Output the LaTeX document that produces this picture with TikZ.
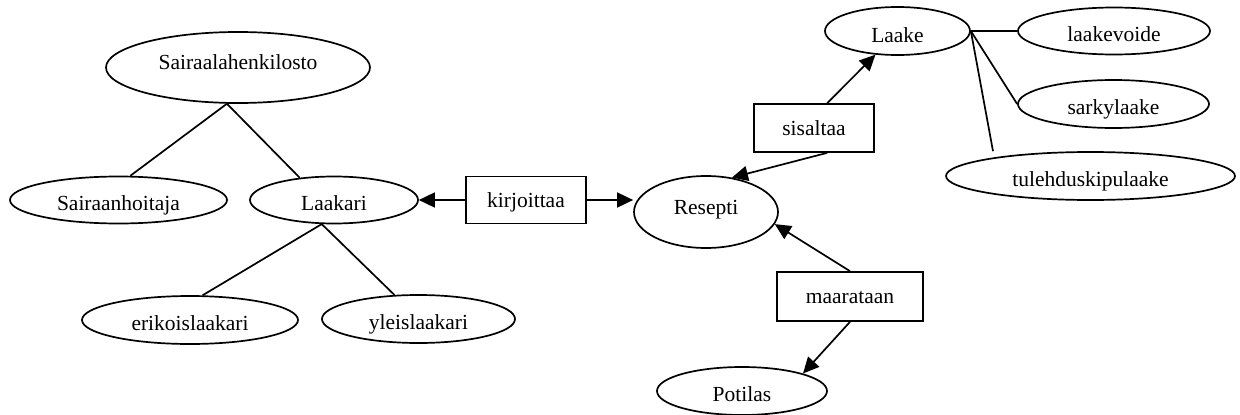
\documentclass[tikz,border=0pt]{standalone}
\usepackage{fontspec}
\setmainfont{Liberation Serif}
\usetikzlibrary{shapes.geometric,arrows.meta}
% zero-width centred label, so node sizes come only from the minimum sizes
\newcommand\ctxt[1]{\makebox[0pt]{#1}}
\begin{document}
\begin{tikzpicture}[x=1pt,y=-1pt,line width=1.7pt,
  every node/.style={font=\fontsize{21.5}{25}\selectfont, inner sep=0pt},
  ent/.style={draw, ellipse, text height=20pt, text depth=0pt},
  tallent/.style={text height=4pt},
  rel/.style={draw, rectangle, text height=14pt, text depth=0pt},
  link/.style={line width=1.7pt},
  arr/.style={link, -{Triangle[length=16pt,width=15pt]}}]
\useasboundingbox (0,0) rectangle (1240,415);

% staff hierarchy
\node[ent, tallent, minimum width=264pt, minimum height=71pt] (sai) at (238,67.5) {\ctxt{Sairaalahenkilosto}};
\node[ent, minimum width=217pt, minimum height=47pt] (hoit) at (118.5,200) {\ctxt{Sairaanhoitaja}};
\node[ent, minimum width=168pt, minimum height=47pt] (laak) at (334,200) {\ctxt{Laakari}};
\node[ent, minimum width=216pt, minimum height=48pt] (erik) at (190,320) {\ctxt{erikoislaakari}};
\node[ent, minimum width=193pt, minimum height=48pt] (ylei) at (418.5,319) {\ctxt{yleislaakari}};

% relationships
\node[rel, minimum width=120pt, minimum height=47pt] (kirj) at (526,200) {\ctxt{kirjoittaa}};
\node[ent, tallent, minimum width=144pt, minimum height=72pt] (res) at (706,212) {\ctxt{Resepti}};
\node[rel, minimum width=120pt, minimum height=48pt] (sis) at (814,128) {\ctxt{sisaltaa}};
\node[rel, minimum width=146pt, minimum height=49pt] (maar) at (850,296.5) {\ctxt{maarataan}};
\node[ent, minimum width=170pt, minimum height=48pt] (pot) at (742,391) {\ctxt{Potilas}};

% medicines
\node[ent, text height=22pt, minimum width=145pt, minimum height=48pt] (laake) at (897.5,31) {\ctxt{Laake}};
\node[ent, minimum width=192pt, minimum height=47pt] (lvoide) at (1114,31) {\ctxt{laakevoide}};
\node[ent, minimum width=191pt, minimum height=48pt] (sark) at (1113.5,104) {\ctxt{sarkylaake}};
\node[ent, minimum width=289pt, minimum height=48pt] (tule) at (1090.5,176) {\ctxt{tulehduskipulaake}};
\coordinate (tulej) at ([xshift=-97.5pt]tule.north);

% hierarchy lines
\draw[link] (sai.253) -- (hoit.64);
\draw[link] (sai.253) -- (laak.147);
\draw[link] (laak.243) -- (erik.63);
\draw[link] (laak.243) -- (ylei.135);
\draw[link] (laake.east) -- (lvoide.west);
\draw[link] (laake.east) -- (sark.west);
\draw[link] (laake.east) -- (tulej);

% relationship arrows
\draw[arr] (kirj.west) -- (laak.east);
\draw[arr] (kirj.east) -- (kirj.east -| res.west);
\draw[arr] (sis.298) -- (res.53);
\draw[arr] (sis.62) -- (laake.227);
\draw[arr] (maar.north) -- (res.350);
\draw[arr] (maar.south) -- (pot.16);
\end{tikzpicture}
\end{document}
